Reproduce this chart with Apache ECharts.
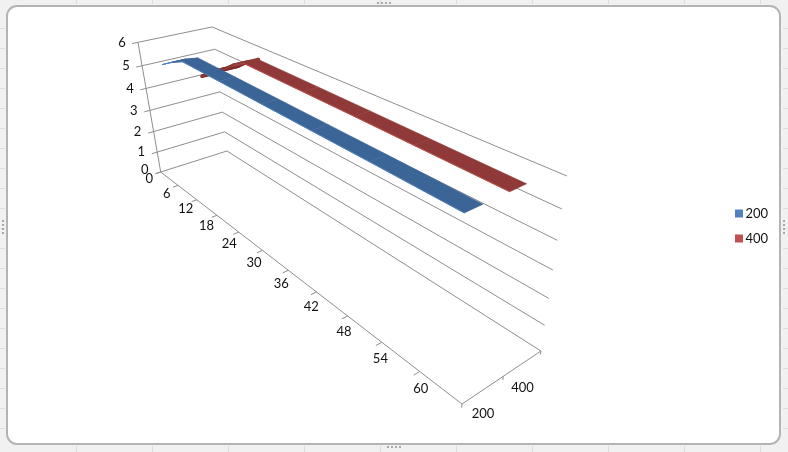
<!DOCTYPE html>
<html>
<head>
<meta charset="utf-8">
<style>html,body{margin:0;padding:0;background:#f1f1f1}#c{width:788px;height:452px}</style>
<script src="https://cdn.jsdelivr.net/npm/echarts@6/dist/echarts.min.js"></script>
</head>
<body>
<div id="c"></div>
<script>
// ---- data ----
var seriesNames = ['200', '400'];
var blueCats = [3, 6, 10, 20, 30, 40, 50, 63];
var blueVals = [5.15, 5.45, 5.77, 5.74, 5.71, 5.68, 5.65, 5.6];
var redCats = [3, 6, 10, 13, 16, 30, 40, 50, 63];
var redVals = [4.25, 4.65, 5.05, 5.45, 5.76, 5.72, 5.69, 5.65, 5.6];
var catTicks = [0, 6, 12, 18, 24, 30, 36, 42, 48, 54, 60];
var valueTicks = [0, 1, 2, 3, 4, 5, 6];

var catMax = 66, valueMax = 6;
var FONT = '13px Lato';
var GRID = '#8e8e8e';

// Perspective camera: homogeneous columns for origin, category, series, value directions
var CAM = {
  o: [240.0, 256.9, 1.4935],
  c: [182.5, 112.6, -0.579],
  s: [118.4, -18.5, 0.0855],
  z: [-53.2, -199.6, -0.1396]
};
function proj(cat, s, val) {
  var u = cat / catMax, w = val / valueMax, h = [0, 0, 0];
  for (var i = 0; i < 3; i++) h[i] = CAM.o[i] + u * CAM.c[i] + s * CAM.s[i] + w * CAM.z[i];
  return [h[0] / h[2], h[1] / h[2]];
}

function seg(api, a, b, width) {
  var p = api.coord(a), q = api.coord(b);
  return { type: 'line', shape: { x1: p[0], y1: p[1], x2: q[0], y2: q[1] },
    style: { stroke: GRID, lineWidth: width || 1 }, silent: true };
}
function txt(api, pt, dx, dy, t) {
  var p = api.coord(pt);
  return { type: 'text', style: { text: String(t), x: p[0] + dx, y: p[1] + dy, fill: '#111', font: FONT,
    align: 'center', verticalAlign: 'middle' }, silent: true };
}

function renderFrame(params, api) {
  var ch = [];
  valueTicks.forEach(function (v) {
    ch.push(seg(api, proj(0, 0, v), proj(0, 1, v)));
    ch.push(seg(api, proj(0, 1, v), proj(catMax, 1, v)));
    ch.push(seg(api, proj(0, 0, v), proj(0, -0.075, v)));
    ch.push(txt(api, proj(0, 0, v), -16, v === 0 ? -2 : 0, v));
  });
  ch.push(seg(api, proj(0, 0, 0), proj(0, 0, valueMax)));
  ch.push(seg(api, proj(0, 0, 0), proj(catMax, 0, 0)));
  ch.push(seg(api, proj(catMax, 0, 0), proj(catMax, 1, 0)));
  catTicks.forEach(function (t) {
    var f = t / 60;
    ch.push(seg(api, proj(t, 0, 0), proj(t, -0.07, 0)));
    ch.push(txt(api, proj(t, 0, 0), -11.5 + 12.5 * f * f, 7 + 10.5 * f, t));
  });
  [0, 0.5, 1].forEach(function (s) {
    ch.push(seg(api, proj(catMax, s, 0), proj(catMax, s, -0.14)));
  });
  seriesNames.forEach(function (n, i) {
    ch.push(txt(api, proj(catMax, 0.25 + 0.5 * i, 0), 0, 24, n));
  });
  return { type: 'group', children: ch };
}

function ribbon(s0, s1, face, edge, under, riseWidth) {
  return function (params, api) {
    var i = params.dataIndex;
    if (i === 0) return null;
    var d = params.context.rows;
    var a = d[i - 1], b = d[i];
    var raw = [proj(a[0], s0, a[1]), proj(b[0], s0, b[1]), proj(b[0], s1, b[1]), proj(a[0], s1, a[1])];
    var area = 0;
    for (var k = 0; k < 4; k++) {
      var n = raw[(k + 1) % 4];
      area += raw[k][0] * n[1] - n[0] * raw[k][1];
    }
    var rising = b[1] > a[1];
    var col = area < 0 ? face : under;
    var pts = raw.map(function (p) { return api.coord(p); });
    return { type: 'group', children: [
      { type: 'polygon', shape: { points: pts }, style: { fill: col, stroke: col, lineWidth: rising ? riseWidth : 0.5, lineJoin: 'round' }, silent: true },
      { type: 'line', shape: { x1: pts[0][0], y1: pts[0][1], x2: pts[1][0], y2: pts[1][1] }, style: { stroke: edge, lineWidth: rising ? 0.6 : 1 }, silent: true }
    ] };
  };
}

function rows(cats, vals) {
  return cats.map(function (c, i) { return [c, vals[i]]; });
}
function customRibbon(name, cats, vals, s0, s1, face, edge, under, riseWidth, z) {
  var r = rows(cats, vals);
  var fn = ribbon(s0, s1, face, edge, under, riseWidth);
  return {
    type: 'custom', name: name, z: z, clip: false, silent: true, coordinateSystem: 'cartesian2d',
    itemStyle: { color: edge }, encode: { x: 0, y: 1 }, data: r,
    renderItem: function (params, api) { params.context.rows = r; return fn(params, api); }
  };
}

// window chrome: outside strip, handles and spreadsheet cell lines
var chrome = [];
chrome.push({ type: 'rect', shape: { x: 7, y: 6, width: 773, height: 438, r: 10 }, z: -2,
  style: { fill: '#ffffff', stroke: '#b4b4b4', lineWidth: 2 }, silent: true });
[[383, 3, 1], [393, 447, 1], [3, 222, 0], [784, 222, 0]].forEach(function (h) {
  for (var i = 0; i < 4; i++) {
    chrome.push({ type: 'rect', z: -1, silent: true,
      shape: { x: h[0] + (h[2] ? i * 4 - 6 : -1), y: h[1] + (h[2] ? -1 : i * 4 - 2), width: 2, height: 2 },
      style: { fill: '#a8a8a8' } });
  }
});
for (var y = 28; y < 440; y += 20) {
  chrome.push({ type: 'rect', z: -3, silent: true, shape: { x: 0, y: y, width: 5, height: 1 }, style: { fill: '#dcdcdc' } });
  chrome.push({ type: 'rect', z: -3, silent: true, shape: { x: 783, y: y, width: 5, height: 1 }, style: { fill: '#dcdcdc' } });
}
for (var x = 76; x < 780; x += 76) {
  chrome.push({ type: 'rect', z: -3, silent: true, shape: { x: x, y: 0, width: 1, height: 4 }, style: { fill: '#dcdcdc' } });
  chrome.push({ type: 'rect', z: -3, silent: true, shape: { x: x, y: 446, width: 1, height: 6 }, style: { fill: '#dcdcdc' } });
}

var chart = echarts.init(document.getElementById('c'), null, { renderer: 'canvas' });
chart.setOption({
  animation: false,
  backgroundColor: '#f1f1f1',
  graphic: { elements: chrome },
  grid: { left: 0, top: 0, width: 788, height: 452, containLabel: false },
  xAxis: { type: 'value', min: 0, max: 788, show: false },
  yAxis: { type: 'value', min: 0, max: 452, inverse: true, show: false },
  legend: {
    data: seriesNames, orient: 'vertical', left: 733, top: 205, icon: 'rect',
    itemWidth: 8, itemHeight: 8, itemGap: 12, selectedMode: false,
    padding: 2,
    textStyle: { fontFamily: 'Lato', fontSize: 13, color: '#111', padding: [0, 0, 0, -2.5] }
  },
  series: [
    { type: 'custom', name: 'frame', z: 1, clip: false, silent: true, data: [[0, 0]], encode: { x: 0, y: 1 }, renderItem: renderFrame },
    customRibbon('400', redCats, redVals, 0.65, 0.85, '#8f3a38', '#c0504d', '#7d2b29', 3.5, 2),
    customRibbon('200', blueCats, blueVals, 0.15, 0.35, '#3c6597', '#4f81bd', '#4f81bd', 1, 3)
  ]
});
</script>
</body>
</html>
